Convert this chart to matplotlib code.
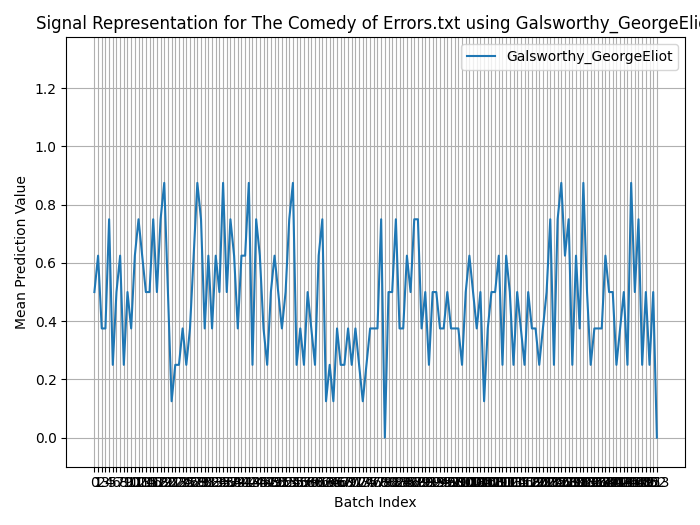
import numpy as np
import matplotlib
matplotlib.use("Agg")
import matplotlib.pyplot as plt

label = "Galsworthy_GeorgeEliot"
values = [
    0.5, 0.625, 0.375, 0.375, 0.75, 0.25, 0.5, 0.625, 0.25, 0.5,
    0.375, 0.625, 0.75, 0.625, 0.5, 0.5, 0.75, 0.5, 0.75, 0.875,
    0.5, 0.125, 0.25, 0.25, 0.375, 0.25, 0.375, 0.625, 0.875, 0.75,
    0.375, 0.625, 0.375, 0.625, 0.5, 0.875, 0.5, 0.75, 0.625, 0.375,
    0.625, 0.625, 0.875, 0.25, 0.75, 0.625, 0.375, 0.25, 0.5, 0.625,
    0.5, 0.375, 0.5, 0.75, 0.875, 0.25, 0.375, 0.25, 0.5, 0.375,
    0.25, 0.625, 0.75, 0.125, 0.25, 0.125, 0.375, 0.25, 0.25, 0.375,
    0.25, 0.375, 0.25, 0.125, 0.25, 0.375, 0.375, 0.375, 0.75, 0.0,
    0.5, 0.5, 0.75, 0.375, 0.375, 0.625, 0.5, 0.75, 0.75, 0.375,
    0.5, 0.25, 0.5, 0.5, 0.375, 0.375, 0.5, 0.375, 0.375, 0.375,
    0.25, 0.5, 0.625, 0.5, 0.375, 0.5, 0.125, 0.375, 0.5, 0.5,
    0.625, 0.25, 0.625, 0.5, 0.25, 0.5, 0.375, 0.25, 0.5, 0.375,
    0.375, 0.25, 0.375, 0.5, 0.75, 0.25, 0.75, 0.875, 0.625, 0.75,
    0.25, 0.625, 0.375, 0.875, 0.5, 0.25, 0.375, 0.375, 0.375, 0.625,
    0.5, 0.5, 0.25, 0.375, 0.5, 0.25, 0.875, 0.5, 0.75, 0.25,
    0.5, 0.25, 0.5, 0.0,
]
batches = np.arange(len(values))

fig, ax = plt.subplots(figsize=(7, 5.25), dpi=100)
ax.plot(batches, values, label=label)
ax.set_xticks(batches)
ax.set_ylim(-0.1, 1.375)
ax.grid(True)
ax.set_xlabel("Batch Index")
ax.set_ylabel("Mean Prediction Value")
ax.set_title("Signal Representation for The Comedy of Errors.txt using Galsworthy_GeorgeEliot")
ax.legend(loc="upper right")
fig.tight_layout()
fig.savefig("out.png")
